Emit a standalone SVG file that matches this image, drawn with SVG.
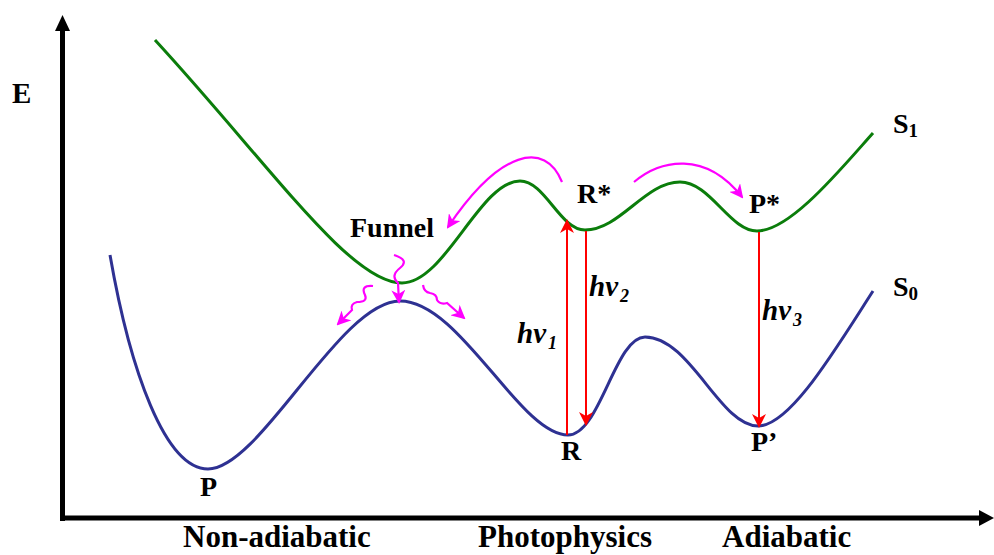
<svg xmlns="http://www.w3.org/2000/svg" width="994" height="555" viewBox="0 0 994 555">
<style>
text{font-family:"Liberation Serif","Times New Roman",serif;font-weight:bold;fill:#000}
.pt{font-size:28px}
.ax{font-size:31px}
.hv{font-size:29px;font-style:italic}
.sub{font-size:18px;font-style:italic}
.s1{fill:none;stroke:#0b7d0b;stroke-width:3}
.s0{fill:none;stroke:#2e3192;stroke-width:3}
.mg{fill:none;stroke:#ff00ff;stroke-width:2.2}
.rd{fill:none;stroke:#ff0000;stroke-width:2}
</style>
<defs>
<marker id="ahr" markerUnits="userSpaceOnUse" viewBox="0 0 14 14" markerWidth="14" markerHeight="14" refX="12" refY="7" orient="auto">
<path d="M0,0 L14,7 L0,14 L4,7 z" fill="#ff0000"/>
</marker>
<marker id="ahm" markerUnits="userSpaceOnUse" viewBox="0 0 14 14" markerWidth="14" markerHeight="14" refX="12" refY="7" orient="auto">
<path d="M0,0 L14,7 L0,14 L4,7 z" fill="#ff00ff"/>
</marker>
</defs>
<g id="axes">
<line x1="62.5" y1="521" x2="62.5" y2="28" stroke="#000" stroke-width="5"/>
<polygon points="62.5,15 55,31 70,31" fill="#000"/>
<line x1="60" y1="518" x2="982" y2="518" stroke="#000" stroke-width="5"/>
<polygon points="994,518 979,510 979,526" fill="#000"/>
<text x="12" y="103" style="font-size:29px">E</text>
</g>
<g id="S1">
<path class="s1" d="M155,40 C270,165 350,283 402,283 C445,283 480,181 520,181 C545,181 560,230 585,230 C620,230 645,182 680,182 C710,182 730,231 757,231 C790,231 840,170 873,133"/>
<text x="893" y="133" class="pt">S<tspan style="font-size:19px" dy="4">1</tspan></text>
</g>
<g id="S0">
<path class="s0" d="M110,255 C130,370 165,469 208,469 C260,469 340,301 400,301 C460,301 520,435 568,435 C600,435 615,337 645,337 C690,337 720,426 758,426 C790,426 835,350 873,291"/>
<text x="893" y="296" class="pt">S<tspan style="font-size:19px" dy="4">0</tspan></text>
</g>
<g id="labels">
<text x="350" y="237" class="pt">Funnel</text>
<text x="577" y="203" class="pt">R*</text>
<text x="749" y="213" class="pt">P*</text>
<text x="561" y="460" class="pt">R</text>
<text x="751" y="451" class="pt">P’</text>
<text x="200" y="496" class="pt">P</text>
<text x="183" y="547" class="ax">Non-adiabatic</text>
<text x="478" y="547" class="ax">Photophysics</text>
<text x="722" y="547" class="ax">Adiabatic</text>
</g>
<g id="connectors">
<path class="rd" marker-end="url(#ahr)" d="M567,435 L567,221"/>
<path class="rd" marker-end="url(#ahr)" d="M586,231 L586,424"/>
<path class="rd" marker-end="url(#ahr)" d="M759,232 L759,426"/>
<path class="mg" marker-end="url(#ahm)" d="M562,182 C545,140 500,150 448,227"/>
<path class="mg" marker-end="url(#ahm)" d="M634,182 C660,160 705,150 742,197"/>
<path class="mg" marker-end="url(#ahm)" d="M394,255 Q410,260 400,268 Q390,276 398,283 L399,302"/>
<path class="mg" marker-end="url(#ahm)" d="M373,286 Q360,285 365,295 Q368,302 357,302 Q350,304 352,310 L338,324"/>
<path class="mg" marker-end="url(#ahm)" d="M423,285 Q424,292 430,293 Q437,294 437,300 Q440,305 447,303 L464,318"/>
</g>
<g id="photon-labels">
<text x="517" y="343" class="hv">hν<tspan class="sub" dx="2" dy="6">1</tspan></text>
<text x="589" y="296" class="hv">hν<tspan class="sub" dx="2" dy="6">2</tspan></text>
<text x="762" y="320" class="hv">hν<tspan class="sub" dx="2" dy="6">3</tspan></text>
</g>
</svg>
